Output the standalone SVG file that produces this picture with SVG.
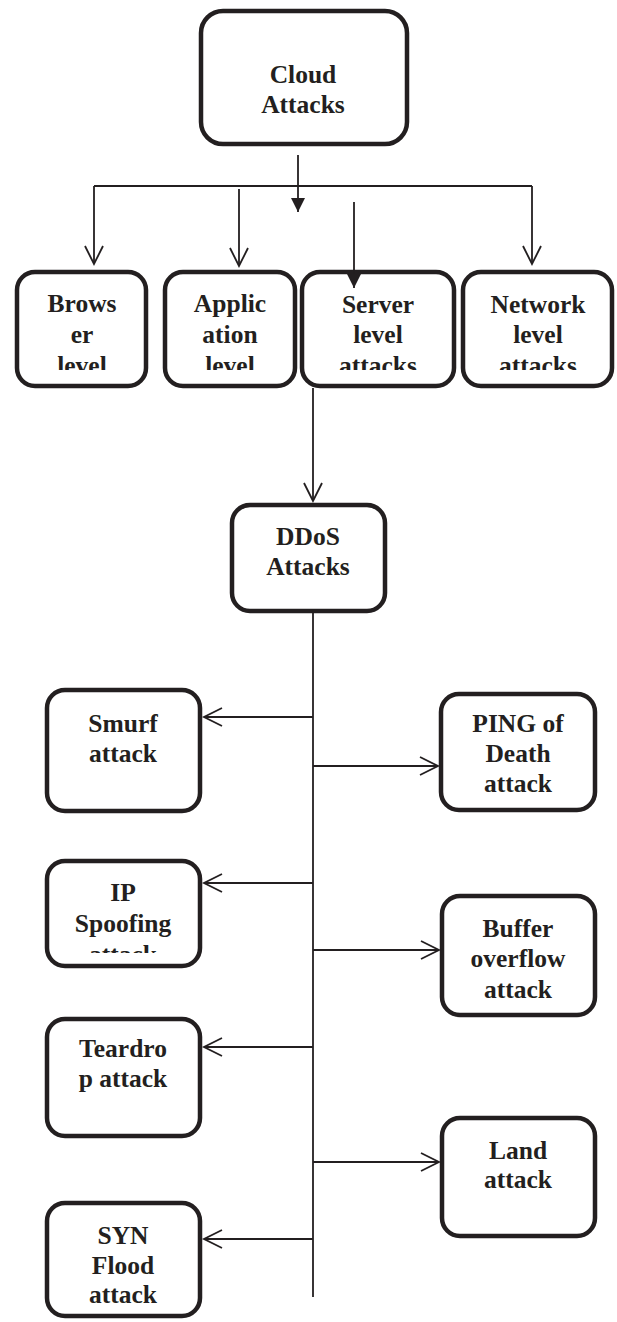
<svg xmlns="http://www.w3.org/2000/svg" width="617" height="1322" viewBox="0 0 617 1322">
<style>
.box{fill:#fff;stroke:#231f20;stroke-width:4.5}
.ln{fill:none;stroke:#231f20;stroke-width:1.8}
.t{font-family:"Liberation Serif","Times New Roman",serif;font-weight:bold;font-size:25.5px;fill:#231f20;text-anchor:middle}
</style>
<defs>
<marker id="open" markerWidth="22" markerHeight="22" refX="19" refY="10" orient="auto" markerUnits="userSpaceOnUse">
<path d="M1,1 L19,10 L1,19" fill="none" stroke="#231f20" stroke-width="1.8"/>
</marker>
<marker id="fill" markerWidth="16" markerHeight="16" refX="14" refY="7" orient="auto" markerUnits="userSpaceOnUse">
<path d="M0,0 L14,7 L0,14 Z" fill="#231f20"/>
</marker>
<clipPath id="c1"><rect x="0" y="260" width="617" height="110"/></clipPath>
<clipPath id="c2"><rect x="40" y="850" width="170" height="103"/></clipPath>
</defs>

<g id="cloud">
<rect class="box" x="201" y="11" width="206" height="133" rx="22"/>
<text class="t" x="303" y="83">Cloud</text>
<text class="t" x="303" y="113">Attacks</text>
</g>

<g id="browser">
<rect class="box" x="17" y="272" width="129" height="114" rx="18"/>
<g clip-path="url(#c1)">
<text class="t" x="82" y="312">Brows</text>
<text class="t" x="82" y="343">er</text>
<text class="t" x="82" y="374">level</text>
</g>
</g>

<g id="application">
<rect class="box" x="165" y="272" width="130" height="114" rx="18"/>
<g clip-path="url(#c1)">
<text class="t" x="230" y="312">Applic</text>
<text class="t" x="230" y="343">ation</text>
<text class="t" x="230" y="374">level</text>
</g>
</g>

<g id="server">
<rect class="box" x="302" y="272" width="152" height="114" rx="18"/>
<g clip-path="url(#c1)">
<text class="t" x="378" y="313">Server</text>
<text class="t" x="378" y="343">level</text>
<text class="t" x="378" y="374">attacks</text>
</g>
</g>

<g id="network">
<rect class="box" x="463" y="272" width="149" height="114" rx="18"/>
<g clip-path="url(#c1)">
<text class="t" x="538" y="313">Network</text>
<text class="t" x="538" y="343">level</text>
<text class="t" x="538" y="374">attacks</text>
</g>
</g>

<g id="ddos">
<rect class="box" x="232" y="505" width="153" height="106" rx="18"/>
<text class="t" x="308" y="545">DDoS</text>
<text class="t" x="308" y="575">Attacks</text>
</g>

<g id="smurf">
<rect class="box" x="47" y="690" width="153" height="121" rx="18"/>
<text class="t" x="123" y="732">Smurf</text>
<text class="t" x="123" y="762">attack</text>
</g>

<g id="ping">
<rect class="box" x="441" y="694" width="154" height="116" rx="18"/>
<text class="t" x="518" y="732">PING of</text>
<text class="t" x="518" y="762">Death</text>
<text class="t" x="518" y="792">attack</text>
</g>

<g id="ipspoof">
<rect class="box" x="47" y="861" width="153" height="105" rx="18"/>
<g clip-path="url(#c2)">
<text class="t" x="123" y="901">IP</text>
<text class="t" x="123" y="932">Spoofing</text>
<text class="t" x="123" y="963">attack</text>
</g>
</g>

<g id="buffer">
<rect class="box" x="442" y="896" width="153" height="119" rx="18"/>
<text class="t" x="518" y="937">Buffer</text>
<text class="t" x="518" y="967">overflow</text>
<text class="t" x="518" y="998">attack</text>
</g>

<g id="teardrop">
<rect class="box" x="47" y="1019" width="153" height="117" rx="18"/>
<text class="t" x="123" y="1057">Teardro</text>
<text class="t" x="123" y="1087">p attack</text>
</g>

<g id="land">
<rect class="box" x="442" y="1118" width="153" height="118" rx="18"/>
<text class="t" x="518" y="1159">Land</text>
<text class="t" x="518" y="1188">attack</text>
</g>

<g id="syn">
<rect class="box" x="47" y="1203" width="153" height="113" rx="18"/>
<text class="t" x="123" y="1244">SYN</text>
<text class="t" x="123" y="1274">Flood</text>
<text class="t" x="123" y="1303">attack</text>
</g>

<g id="connectors">
<path class="ln" d="M94,186 H532"/>
<path class="ln" d="M94,186 V264" marker-end="url(#open)"/>
<path class="ln" d="M532,186 V264" marker-end="url(#open)"/>
<path class="ln" d="M239,189 V266" marker-end="url(#open)"/>
<path class="ln" d="M298,155 V212" marker-end="url(#fill)"/>
<path class="ln" d="M354,202 V288" marker-end="url(#fill)"/>
<path class="ln" d="M313,388 V501" marker-end="url(#open)"/>
<path class="ln" d="M313,611 V1297"/>
<path class="ln" d="M313,717 H204" marker-end="url(#open)"/>
<path class="ln" d="M313,766 H438" marker-end="url(#open)"/>
<path class="ln" d="M313,883 H204" marker-end="url(#open)"/>
<path class="ln" d="M313,950 H439" marker-end="url(#open)"/>
<path class="ln" d="M313,1047 H204" marker-end="url(#open)"/>
<path class="ln" d="M313,1162 H439" marker-end="url(#open)"/>
<path class="ln" d="M313,1239 H204" marker-end="url(#open)"/>
</g>
</svg>
